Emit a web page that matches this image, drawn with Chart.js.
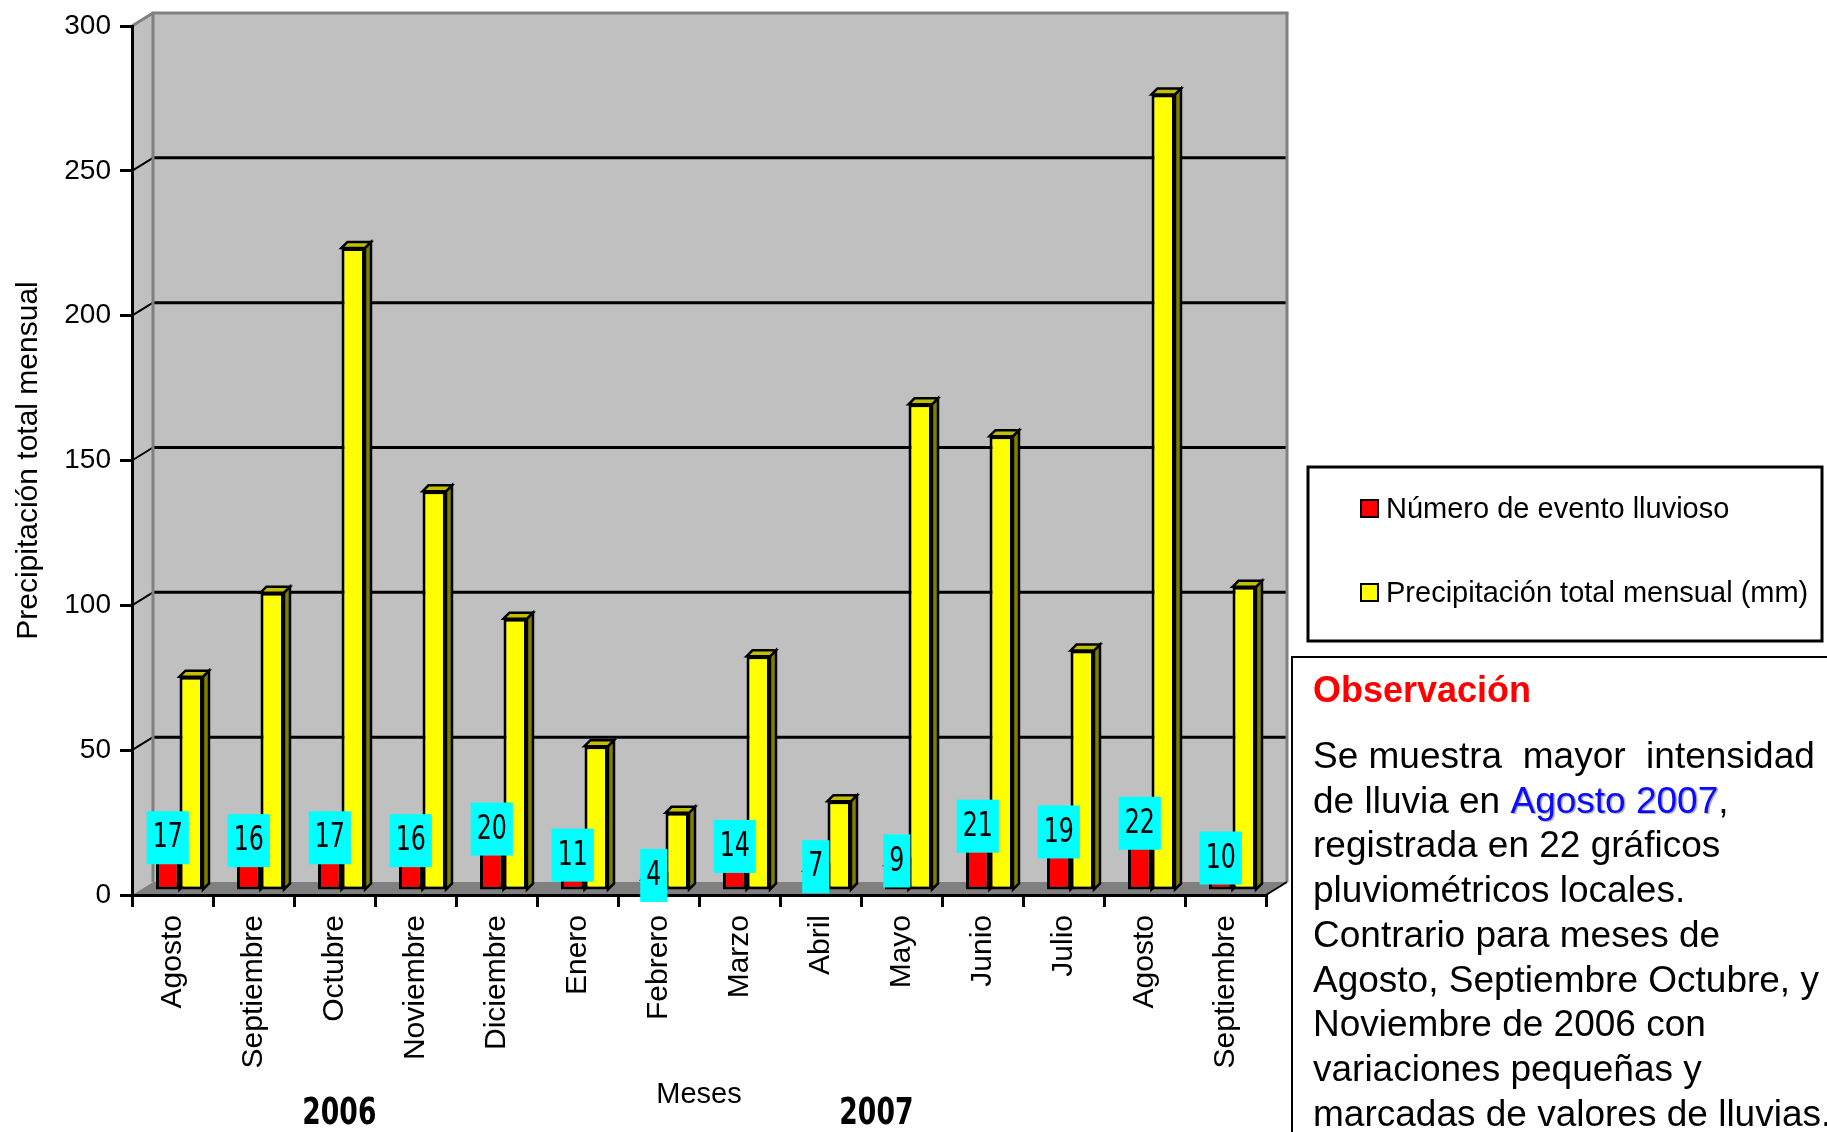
<!DOCTYPE html>
<html lang="es">
<head>
<meta charset="utf-8">
<title>Precipitación total mensual</title>
<script src="https://cdn.jsdelivr.net/npm/chart.js@4/dist/chart.umd.min.js"></script>
<style>
  html, body { margin: 0; padding: 0; background: #ffffff; }
  #wrap { width: 1827px; height: 1132px; position: relative; }
</style>
</head>
<body>
<div id="wrap"><canvas id="chart" width="1827" height="1132"></canvas></div>
<script>
// ---- data ----
const months = ['Agosto', 'Septiembre', 'Octubre', 'Noviembre', 'Diciembre', 'Enero', 'Febrero',
                'Marzo', 'Abril', 'Mayo', 'Junio', 'Julio', 'Agosto', 'Septiembre'];
const rainEvents  = [17, 16, 17, 16, 20, 11, 4, 14, 7, 9, 21, 19, 22, 10];
const monthlyRain = [74, 103, 222, 138, 94, 50, 27, 81, 31, 168, 157, 83, 275, 105];
const yTickValues = [0, 50, 100, 150, 200, 250, 300];
const years = ['2006', '2007'];
const seriesNames = ['Número de evento lluvioso', 'Precipitación total mensual (mm)'];
const axisTitleY = 'Precipitación total mensual';
const axisTitleX = 'Meses';
const noteTitle = 'Observación';
const noteLines = [
  [['Se muestra  mayor  intensidad', 'black']],
  [['de lluvia en ', 'black'], ['Agosto 2007', 'blue'], [',', 'black']],
  [['registrada en 22 gráficos', 'black']],
  [['pluviométricos locales.', 'black']],
  [['Contrario para meses de', 'black']],
  [['Agosto, Septiembre Octubre, y', 'black']],
  [['Noviembre de 2006 con', 'black']],
  [['variaciones pequeñas y', 'black']],
  [['marcadas de valores de lluvias.', 'black']]
];

// ---- look ----
const FONT = '"Liberation Sans", Arial, sans-serif';
const NARROW = '"Liberation Sans Narrow", "DejaVu Sans Condensed", Arial, sans-serif';
const WALL = '#c0c0c0';
const WALL_EDGE = '#808080';
const FLOOR = '#808080';
const DEPTH_X = 21, DEPTH_Y = 13;        // back wall offset
const BAR_DX = 7, BAR_DY = 4;            // bars sit slightly behind the front edge
const BAR_D = 6;                          // bar thickness in depth
const faceColors = [
  { front: '#ff0000', side: '#800000', top: '#c00000' },
  { front: '#ffff00', side: '#808000', top: '#c0c000' }
];
const yearAnchor = [2.06, 8.69];          // in category units from the first category
const SQUEEZE = 0.8;                      // horizontal squeeze for the condensed captions

function poly(ctx, pts, fill, stroke, lw) {
  ctx.beginPath();
  ctx.moveTo(pts[0][0], pts[0][1]);
  for (let i = 1; i < pts.length; i++) ctx.lineTo(pts[i][0], pts[i][1]);
  ctx.closePath();
  if (fill) { ctx.fillStyle = fill; ctx.fill(); }
  if (stroke) { ctx.strokeStyle = stroke; ctx.lineWidth = lw || 2; ctx.stroke(); }
}
function line(ctx, x1, y1, x2, y2, color, lw) {
  ctx.beginPath();
  ctx.moveTo(x1, y1); ctx.lineTo(x2, y2);
  ctx.strokeStyle = color; ctx.lineWidth = lw; ctx.stroke();
}
function squeezedText(ctx, txt, x, y) {
  ctx.save();
  ctx.translate(x, y);
  ctx.scale(SQUEEZE, 1);
  ctx.fillText(txt, 0, 0);
  ctx.restore();
}

const box3d = {
  id: 'box3d',
  beforeDraw(chart) {
    const ctx = chart.ctx;
    const { left, right, top, bottom } = chart.chartArea;
    const ys = chart.scales.y;
    ctx.save();
    ctx.fillStyle = '#ffffff';
    ctx.fillRect(0, 0, chart.width, chart.height);
    // left side wall, back wall, floor
    poly(ctx, [[left, bottom], [left, top], [left + DEPTH_X, top - DEPTH_Y], [left + DEPTH_X, bottom - DEPTH_Y]], WALL);
    ctx.fillStyle = WALL;
    ctx.fillRect(left + DEPTH_X, top - DEPTH_Y, right - left, bottom - top);
    poly(ctx, [[left, bottom], [right, bottom], [right + DEPTH_X, bottom - DEPTH_Y], [left + DEPTH_X, bottom - DEPTH_Y]], FLOOR);
    // grid lines on the back wall with their connectors to the axis
    ys.ticks.forEach(t => {
      if (t.value <= ys.min || t.value >= ys.max) return;
      const yy = ys.getPixelForValue(t.value);
      line(ctx, left + DEPTH_X, yy - DEPTH_Y, right + DEPTH_X, yy - DEPTH_Y, '#000', 3);
      line(ctx, left, yy, left + DEPTH_X, yy - DEPTH_Y, '#000', 2);
    });
    // wall edges
    line(ctx, left + DEPTH_X, top - DEPTH_Y, left + DEPTH_X, bottom - DEPTH_Y, WALL_EDGE, 3);
    line(ctx, left, top, left + DEPTH_X, top - DEPTH_Y, WALL_EDGE, 3);
    line(ctx, left + DEPTH_X - 1.5, top - DEPTH_Y, right + DEPTH_X + 1.5, top - DEPTH_Y, WALL_EDGE, 3);
    line(ctx, right + DEPTH_X, top - DEPTH_Y, right + DEPTH_X, bottom - DEPTH_Y, WALL_EDGE, 3);
    line(ctx, right, bottom, right + DEPTH_X, bottom - DEPTH_Y, '#000', 2);
    ctx.restore();
  },
  afterDatasetsUpdate(chart) {
    chart.data.datasets.forEach((ds, i) => {
      chart.getDatasetMeta(i).data.forEach(el => {
        el.x += BAR_DX; el.y -= BAR_DY; el.base -= BAR_DY;
      });
    });
  },
  beforeDatasetsDraw(chart) {
    const ctx = chart.ctx;
    ctx.save();
    ctx.lineJoin = 'miter';
    chart.data.datasets.forEach((ds, i) => {
      const c = faceColors[i];
      chart.getDatasetMeta(i).data.forEach(el => {
        const { x, y, base, width } = el.getProps(['x', 'y', 'base', 'width'], true);
        const l = x - width / 2, r = x + width / 2, d = BAR_D;
        poly(ctx, [[r, y], [r + d, y - d], [r + d, base - d], [r, base]], c.side, '#000', 2.5);
        poly(ctx, [[l, y], [l + d, y - d], [r + d, y - d], [r, y]], c.top, '#000', 2.5);
      });
    });
    ctx.restore();
  },
  afterDatasetsDraw(chart) {
    // value boxes on the event counts
    const ctx = chart.ctx;
    const meta = chart.getDatasetMeta(0);
    ctx.save();
    ctx.font = '33px ' + NARROW;
    ctx.textAlign = 'center';
    ctx.textBaseline = 'middle';
    meta.data.forEach((el, i) => {
      const txt = String(chart.data.datasets[0].data[i]);
      const w = ctx.measureText(txt).width * SQUEEZE + 12;
      const h = 53;
      const cy = el.y - 4;
      ctx.fillStyle = '#00ffff';
      ctx.fillRect(el.x - w / 2, cy - h / 2, w, h);
      ctx.fillStyle = '#000';
      squeezedText(ctx, txt, el.x, cy + 1);
    });
    ctx.restore();
  },
  afterDraw(chart) {
    const ctx = chart.ctx;
    const xs = chart.scales.x;
    ctx.save();
    // year captions under the month labels
    const step = xs.getPixelForValue(1) - xs.getPixelForValue(0);
    const x0 = xs.getPixelForValue(0) - step / 2;
    ctx.font = 'bold 37px ' + NARROW;
    ctx.fillStyle = '#000';
    ctx.textAlign = 'center';
    ctx.textBaseline = 'alphabetic';
    years.forEach((yr, i) => squeezedText(ctx, yr, x0 + yearAnchor[i] * step + step / 2, 1124));

    // legend
    ctx.lineWidth = 3;
    ctx.strokeStyle = '#000';
    ctx.fillStyle = '#fff';
    ctx.fillRect(1308, 467, 514, 174);
    ctx.strokeRect(1308, 467, 514, 174);
    ctx.font = '29px ' + FONT;
    ctx.textAlign = 'left';
    const rows = [509, 593];
    chart.data.datasets.forEach((ds, i) => {
      ctx.fillStyle = ds.backgroundColor;
      ctx.fillRect(1361, rows[i] - 9, 17, 17);
      ctx.lineWidth = 2;
      ctx.strokeRect(1361, rows[i] - 9, 17, 17);
      ctx.fillStyle = '#000';
      ctx.fillText(ds.label, 1386, rows[i] + 9);
    });

    // observation panel
    ctx.lineWidth = 2;
    line(ctx, 1292, 657, 1827, 657, '#000', 2);
    line(ctx, 1292, 656, 1292, 1132, '#000', 2);
    ctx.font = 'bold 36px ' + FONT;
    ctx.fillStyle = '#ff0000';
    ctx.fillText(noteTitle, 1313, 702);
    ctx.font = '37px ' + FONT;
    noteLines.forEach((parts, i) => {
      let x = 1313;
      const y = 768 + i * 44.7;
      parts.forEach(([txt, col]) => {
        ctx.save();
        if (col === 'blue') {
          ctx.fillStyle = '#0a0aff';
          ctx.shadowColor = 'rgba(0,0,0,0.35)';
          ctx.shadowOffsetX = 1.5; ctx.shadowOffsetY = 1.5; ctx.shadowBlur = 1;
        } else {
          ctx.fillStyle = '#000';
        }
        ctx.fillText(txt, x, y);
        ctx.restore();
        x += ctx.measureText(txt).width;
      });
    });
    ctx.restore();
  }
};

new Chart(document.getElementById('chart'), {
  type: 'bar',
  data: {
    labels: months,
    datasets: [
      { label: seriesNames[0], data: rainEvents, backgroundColor: faceColors[0].front,
        borderColor: '#000', borderWidth: 3, borderSkipped: false },
      { label: seriesNames[1], data: monthlyRain, backgroundColor: faceColors[1].front,
        borderColor: '#000', borderWidth: 3, borderSkipped: false }
    ]
  },
  options: {
    responsive: false,
    devicePixelRatio: 1,
    animation: false,
    layout: { padding: { left: 0, top: 26, right: 561, bottom: 0 } },
    datasets: { bar: { categoryPercentage: 0.58, barPercentage: 1.0 } },
    plugins: { legend: { display: false }, tooltip: { enabled: false } },
    scales: {
      x: {
        grid: { display: true, drawOnChartArea: false, drawTicks: true, tickLength: 12,
                color: '#000', lineWidth: 3, offset: true },
        border: { display: true, color: '#000', width: 3 },
        ticks: { autoSkip: false, minRotation: 90, maxRotation: 90, padding: 8,
                 color: '#000', font: { family: FONT, size: 30 } },
        title: { display: true, text: axisTitleX, color: '#000',
                 font: { family: FONT, size: 29 }, padding: { top: 0, bottom: 20 } },
        afterFit(scale) { scale.height = 237; }
      },
      y: {
        min: 0, max: 300,
        afterBuildTicks(scale) { scale.ticks = yTickValues.map(v => ({ value: v })); },
        grid: { display: true, drawOnChartArea: false, drawTicks: true, tickLength: 12,
                color: '#000', lineWidth: 3 },
        border: { display: true, color: '#000', width: 3 },
        ticks: { padding: 9, color: '#000', font: { family: FONT, size: 28 } },
        title: { display: true, text: axisTitleY, color: '#000',
                 font: { family: FONT, size: 30 }, padding: { top: 11, bottom: 0 } },
        afterFit(scale) { scale.width = 132; }
      }
    }
  },
  plugins: [box3d]
});
</script>
</body>
</html>
